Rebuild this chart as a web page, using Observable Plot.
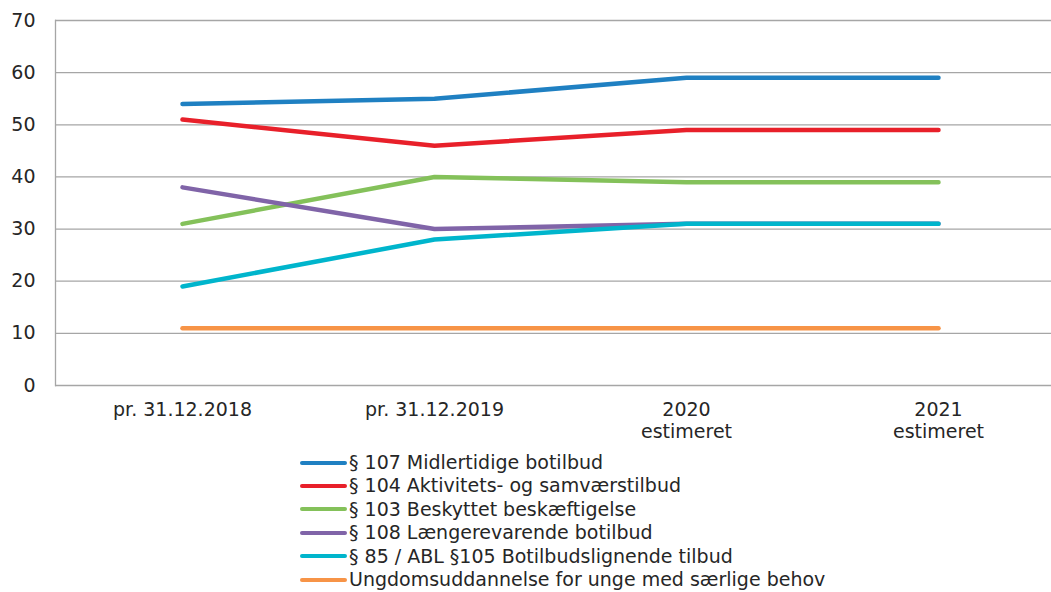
<!DOCTYPE html>
<html>
<head>
<meta charset="utf-8">
<script src="https://cdn.jsdelivr.net/npm/d3@7"></script>
<script src="https://cdn.jsdelivr.net/npm/@observablehq/plot@0.6"></script>
<style>
  html, body { margin: 0; padding: 0; background: #fff; }
  body { width: 1051px; height: 592px; overflow: hidden; font-family: "DejaVu Sans", Verdana, sans-serif; }
  #legend { position: absolute; left: 300px; top: 451px; font-size: 19px; color: #262626; }
  .item { display: flex; align-items: center; height: 23.4px; line-height: 23.4px; }
  .sw { width: 47px; height: 4px; border-radius: 2px; margin-right: 2px; }
</style>
</head>
<body>
<div id="chart"></div>
<div id="legend"></div>
<script>
const categories = ["pr. 31.12.2018", "pr. 31.12.2019", "2020\nestimeret", "2021\nestimeret"];
const seriesNames = [
  "§ 107 Midlertidige botilbud",
  "§ 104 Aktivitets- og samværstilbud",
  "§ 103 Beskyttet beskæftigelse",
  "§ 108 Længerevarende botilbud",
  "§ 85 / ABL §105 Botilbudslignende tilbud",
  "Ungdomsuddannelse for unge med særlige behov"
];
const seriesColors = ["#1f80c2", "#e8202a", "#84c15a", "#8064a8", "#00b5cc", "#f79447"];
const s107 = [54, 55, 59, 59];
const s104 = [51, 46, 49, 49];
const s103 = [31, 40, 39, 39];
const s108 = [38, 30, 31, 31];
const s85  = [19, 28, 31, 31];
const sUng = [11, 11, 11, 11];
const yTicks = [0, 10, 20, 30, 40, 50, 60, 70];

const allSeries = [s107, s104, s103, s108, s85, sUng];
const rows = [];
allSeries.forEach((vals, i) => {
  vals.forEach((v, j) => rows.push({series: seriesNames[i], cat: categories[j], value: v}));
});

const chart = Plot.plot({
  width: 1051,
  height: 448,
  marginLeft: 55,
  marginRight: 0,
  marginTop: 20,
  marginBottom: 63,
  style: {fontFamily: "'DejaVu Sans', Verdana, sans-serif", fontSize: "19px", color: "#262626", background: "#fff"},
  x: {type: "point", domain: categories, range: [55, 1064], padding: 0.5},
  y: {domain: [0, 70], ticks: yTicks},
  color: {domain: seriesNames, range: seriesColors},
  marks: [
    Plot.ruleY(yTicks, {stroke: "#a6a6a6", strokeWidth: 1.3}),
    Plot.frame({anchor: "left", stroke: "#a6a6a6", strokeWidth: 1.3}),
    Plot.axisY({ticks: yTicks, tickSize: 0, tickPadding: 20, label: null, fontSize: 19}),
    Plot.axisX({tickSize: 0, tickPadding: 14, label: null, fontSize: 19, lineHeight: 1.2}),
    Plot.line(rows, {x: "cat", y: "value", z: "series", stroke: "series", strokeWidth: 4.5, strokeLinecap: "round", strokeLinejoin: "round"})
  ]
});
document.getElementById("chart").appendChild(chart);

const legend = document.getElementById("legend");
seriesNames.forEach((name, i) => {
  const d = document.createElement("div");
  d.className = "item";
  const sw = document.createElement("span");
  sw.className = "sw";
  sw.style.background = seriesColors[i];
  const t = document.createElement("span");
  t.textContent = name;
  d.appendChild(sw); d.appendChild(t);
  legend.appendChild(d);
});
</script>
</body>
</html>
